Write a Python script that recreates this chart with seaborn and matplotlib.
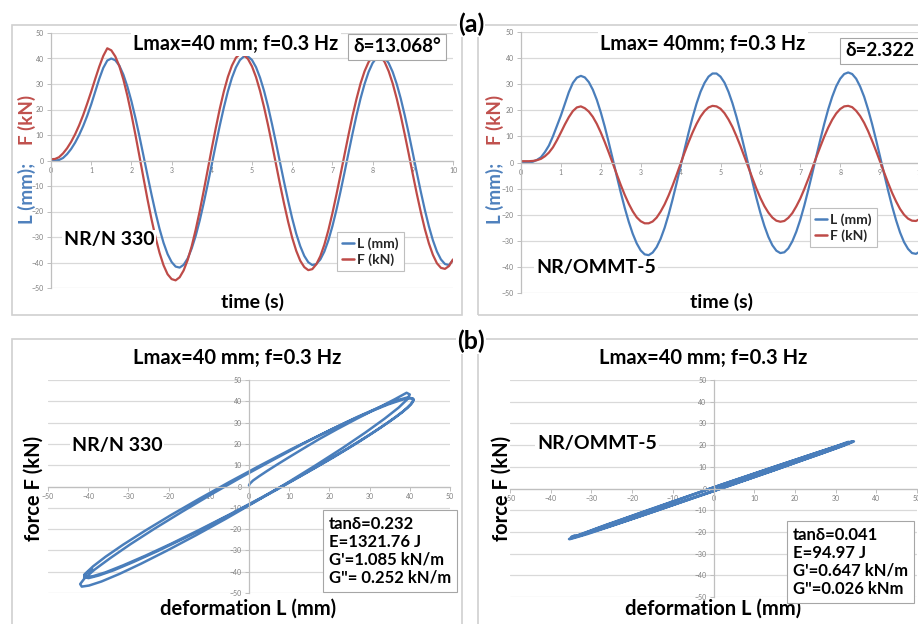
import matplotlib
matplotlib.use("Agg")
import matplotlib.pyplot as plt
from matplotlib.patches import Rectangle
import pandas as pd
import seaborn as sns

time_s = [0.0, 0.1, 0.2, 0.3, 0.4, 0.5, 0.6, 0.7, 0.8, 0.9,
          1.0, 1.1, 1.2, 1.3, 1.4, 1.5, 1.6, 1.7, 1.8, 1.9,
          2.0, 2.1, 2.2, 2.3, 2.4, 2.5, 2.6, 2.7, 2.8, 2.9,
          3.0, 3.1, 3.2, 3.3, 3.4, 3.5, 3.6, 3.7, 3.8, 3.9,
          4.0, 4.1, 4.2, 4.3, 4.4, 4.5, 4.6, 4.7, 4.8, 4.9,
          5.0, 5.1, 5.2, 5.3, 5.4, 5.5, 5.6, 5.7, 5.8, 5.9,
          6.0, 6.1, 6.2, 6.3, 6.4, 6.5, 6.6, 6.7, 6.8, 6.9,
          7.0, 7.1, 7.2, 7.3, 7.4, 7.5, 7.6, 7.7, 7.8, 7.9,
          8.0, 8.1, 8.2, 8.3, 8.4, 8.5, 8.6, 8.7, 8.8, 8.9,
          9.0, 9.1, 9.2, 9.3, 9.4, 9.5, 9.6, 9.7, 9.8, 9.9, 10.0]

# NR/N 330
L_n330 = [0.0, 0.0, 0.2, 1.0, 2.5, 4.5, 7.0, 10.0, 13.5, 17.5,
          22.0, 27.0, 32.0, 36.3, 39.2, 40.0, 39.3, 37.2, 33.7, 29.0,
          23.3, 16.7, 9.5, 1.9, -5.8, -13.3, -20.4, -26.8, -32.3, -36.7,
          -39.8, -41.6, -42.0, -40.9, -38.4, -34.5, -29.5, -23.5, -16.6, -9.2,
          -1.5, 6.3, 13.8, 20.8, 27.1, 32.4, 36.5, 39.4, 40.8, 40.8,
          39.4, 36.6, 32.5, 27.3, 21.1, 14.1, 6.7, -1.0, -8.6, -15.9,
          -22.7, -28.7, -33.6, -37.4, -39.9, -41.0, -40.6, -38.8, -35.7, -31.3,
          -25.8, -19.4, -12.3, -4.8, 2.9, 10.5, 17.7, 24.3, 30.0, 34.7,
          38.2, 40.3, 41.0, 40.3, 38.2, 34.7, 30.0, 24.3, 17.7, 10.5,
          2.9, -4.8, -12.3, -19.4, -25.8, -31.3, -35.7, -38.8, -40.6, -41.0, -39.0]
F_n330 = [0.5, 0.6, 1.3, 2.8, 4.8, 7.3, 10.3, 13.8, 17.8, 22.3,
          27.0, 32.0, 36.8, 41.0, 44.0, 43.2, 40.8, 37.0, 31.8, 25.4,
          18.1, 10.1, 1.7, -6.8, -15.2, -23.0, -30.1, -36.2, -41.1, -44.6,
          -46.5, -47.0, -45.8, -43.1, -39.0, -33.6, -27.1, -19.8, -11.8, -3.5,
          4.8, 12.8, 20.4, 27.1, 32.8, 37.2, 40.3, 41.8, 41.3, 39.8,
          36.9, 32.7, 27.3, 20.9, 13.8, 6.2, -1.7, -9.6, -17.1, -24.1,
          -30.3, -35.4, -39.3, -41.8, -43.0, -42.6, -40.7, -37.5, -33.0, -27.3,
          -20.7, -13.4, -5.7, 2.2, 10.0, 17.5, 24.2, 30.2, 35.0, 38.6,
          40.8, 41.5, 40.8, 38.6, 35.0, 30.2, 24.3, 17.6, 10.2, 2.5,
          -5.4, -13.1, -20.3, -26.9, -32.5, -37.0, -40.3, -42.1, -42.5, -41.4, -38.8]

# NR/OMMT-5
L_ommt = [0.0, 0.0, 0.0, 0.3, 1.0, 2.0, 4.0, 6.5, 10.0, 14.0,
          18.0, 22.5, 27.0, 30.5, 32.5, 33.2, 32.6, 30.8, 27.9, 24.0,
          19.2, 13.7, 7.6, 1.3, -5.2, -11.5, -17.4, -22.7, -27.3, -31.0,
          -33.7, -35.2, -35.5, -34.5, -32.4, -29.2, -25.0, -19.9, -14.1, -7.9,
          -1.4, 5.1, 11.4, 17.3, 22.6, 27.1, 30.5, 32.9, 34.1, 34.1,
          32.9, 30.6, 27.1, 22.7, 17.5, 11.7, 5.4, -1.0, -7.4, -13.6,
          -19.3, -24.3, -28.5, -31.7, -33.8, -34.7, -34.4, -32.9, -30.2, -26.5,
          -21.9, -16.5, -10.5, -4.2, 2.3, 8.7, 14.8, 20.4, 25.2, 29.2,
          32.1, 33.9, 34.5, 33.9, 32.1, 29.1, 25.2, 20.3, 14.7, 8.6,
          2.2, -4.3, -10.7, -16.7, -22.1, -26.8, -30.5, -33.1, -34.7, -35.0, -34.1]
F_ommt = [0.5, 0.5, 0.5, 0.6, 0.9, 1.4, 2.4, 3.8, 5.8, 8.5,
          11.5, 14.6, 17.4, 19.7, 21.1, 21.5, 20.8, 19.5, 17.5, 14.8,
          11.5, 7.8, 3.8, -0.3, -4.5, -8.6, -12.4, -15.8, -18.7, -21.0,
          -22.5, -23.3, -23.3, -22.6, -21.1, -18.8, -16.0, -12.6, -8.8, -4.7,
          -0.4, 3.8, 7.8, 11.5, 14.8, 17.6, 19.7, 21.1, 21.7, 21.5,
          20.6, 18.9, 16.5, 13.6, 10.1, 6.3, 2.2, -1.9, -6.0, -10.0,
          -13.6, -16.7, -19.2, -21.1, -22.3, -22.7, -22.4, -21.2, -19.4, -16.8,
          -13.8, -10.2, -6.3, -2.2, 2.0, 6.0, 9.9, 13.4, 16.4, 18.8,
          20.5, 21.5, 21.7, 21.2, 19.8, 17.8, 15.2, 12.0, 8.3, 4.4,
          0.3, -3.8, -7.8, -11.6, -14.9, -17.8, -20.0, -21.5, -22.3, -22.4, -21.6]

delta_text = ["δ=13.068°", "δ=2.322"]
loop_stats = ["tanδ=0.232\nE=1321.76 J\nG'=1.085 kN/m\nG\"= 0.252 kN/m",
              "tanδ=0.041\nE=94.97 J\nG'=0.647 kN/m\nG\"=0.026 kNm"]

BLUE = "#4A7EBB"
RED = "#BE4B48"
GRID = "#D9D9D9"
AXIS = "#BFBFBF"
TICK = "#7F7F7F"

sns.set_theme(style="white")
plt.rcParams["font.family"] = ["Lato", "DejaVu Sans"]

W, H = 918, 624
fig = plt.figure(figsize=(W / 100, H / 100), dpi=100)
fig.patch.set_facecolor("white")


def px_rect(l, t, r, b):
    return [l / W, 1 - b / H, (r - l) / W, (b - t) / H]


def ftext(x, y, s, **kw):
    return fig.text(x / W, 1 - y / H, s, **kw)


def setup(ax, xlim, xticks, cross_x):
    ax.set_xlim(*xlim)
    ax.set_ylim(-50, 50)
    ax.set_facecolor("none")
    ax.set_xticks(xticks)
    ax.set_yticks(range(-50, 51, 10))
    ax.set_axisbelow(True)
    ax.yaxis.grid(True, color=GRID, lw=0.9)
    ax.xaxis.grid(False)
    for s in ["top", "right"]:
        ax.spines[s].set_visible(False)
    ax.spines["bottom"].set_position(("data", 0))
    if cross_x:
        ax.spines["left"].set_position(("data", 0))
    for s in ["left", "bottom"]:
        ax.spines[s].set_color(AXIS)
        ax.spines[s].set_linewidth(0.9)
    ax.tick_params(axis="both", length=3, width=0.7, color=AXIS, labelsize=5,
                   labelcolor=TICK, pad=2, direction="out", bottom=True, left=True)
    ax.set_xlabel("")
    ax.set_ylabel("")


bold = dict(fontweight="bold", color="black")
white_box = dict(boxstyle="square,pad=0.1", fc="white", ec="none")
edge_box = dict(boxstyle="square,pad=0.25", fc="white", ec="#A6A6A6", lw=0.8)

# chart frames
for l, t, r, b in [(12, 25, 462, 315), (478, 25, 930, 315),
                   (12, 339, 462, 640), (478, 339, 930, 640)]:
    fig.add_artist(Rectangle((l / W, 1 - b / H), (r - l) / W, (b - t) / H,
                             transform=fig.transFigure, fill=False,
                             ec="#D0D0D0", lw=1.2))

# (a) time plots
panels_a = [
    dict(rect=(51, 33, 453, 288), L=L_n330, F=F_n330, name="NR/N 330",
         title="Lmax=40 mm; f=0.3 Hz", cx=236, dx=397, dy=47, dha="center",
         nx=109, ny=240, leg=(337, 232), xl=252, yl=27),
    dict(rect=(521, 32, 920, 293), L=L_ommt, F=F_ommt, name="NR/OMMT-5",
         title="Lmax= 40mm; f=0.3 Hz", cx=703, dx=845, dy=51, dha="left",
         nx=596, ny=268, leg=(810, 208), xl=721, yl=495),
]
for i, p in enumerate(panels_a):
    ax = fig.add_axes(px_rect(*p["rect"]))
    df = pd.DataFrame({
        "time": time_s + time_s,
        "value": p["L"] + p["F"],
        "series": ["L (mm)"] * len(time_s) + ["F (kN)"] * len(time_s),
    })
    sns.lineplot(data=df, x="time", y="value", hue="series",
                 palette={"L (mm)": BLUE, "F (kN)": RED}, estimator=None,
                 lw=1.6, ax=ax)
    setup(ax, (0, 10), range(0, 11), False)
    h, lab = ax.get_legend_handles_labels()
    leg = ax.legend(h, lab, loc="upper left",
                    bbox_to_anchor=(p["leg"][0] / W, 1 - p["leg"][1] / H),
                    bbox_transform=fig.transFigure, fancybox=False,
                    edgecolor=AXIS, framealpha=1, handlelength=0.9,
                    handletextpad=0.2, borderpad=0.35, labelspacing=0.25,
                    borderaxespad=0, prop={"weight": "bold", "size": 10})
    leg.get_frame().set_linewidth(0.8)
    for line in leg.get_lines():
        line.set_linewidth(1.8)

    ftext(p["cx"], 44, p["title"], fontsize=14.2, ha="center", va="center",
          bbox=white_box, **bold)
    ftext(p["dx"], p["dy"], delta_text[i], fontsize=13.5, ha=p["dha"],
          va="center", bbox=edge_box, **bold)
    ftext(p["nx"], p["ny"], p["name"], fontsize=14, ha="center", va="center",
          bbox=white_box, **bold)
    ftext(p["xl"], 302, "time (s)", fontsize=14, ha="center", va="center",
          **bold)
    ftext(p["yl"], 193, "L (mm);", fontsize=13.5, ha="center", va="center",
          rotation=90, fontweight="bold", color="#4F81BD")
    ftext(p["yl"], 120, "F (kN)", fontsize=13.5, ha="center", va="center",
          rotation=90, fontweight="bold", color="#C0504D")

# (b) hysteresis loops F vs L
panels_b = [
    dict(rect=(48, 380, 450, 593), L=L_n330, F=F_n330, name="NR/N 330",
         cx=237, nx=117, ny=446, bx=329, by=551, xl=248, yl=34),
    dict(rect=(510, 380, 917, 597), L=L_ommt, F=F_ommt, name="NR/OMMT-5",
         cx=703, nx=597, ny=444, bx=793, by=562, xl=713, yl=502),
]
for i, p in enumerate(panels_b):
    ax = fig.add_axes(px_rect(*p["rect"]))
    sns.lineplot(x=p["L"], y=p["F"], sort=False, estimator=None, color=BLUE,
                 lw=1.8, ax=ax)
    setup(ax, (-50, 50), range(-50, 51, 10), True)

    ftext(p["cx"], 358, "Lmax=40 mm; f=0.3 Hz", fontsize=14.5, ha="center",
          va="center", bbox=white_box, **bold)
    ftext(p["nx"], p["ny"], p["name"], fontsize=14, ha="center", va="center",
          bbox=white_box, **bold)
    ftext(p["xl"], 609, "deformation L (mm)", fontsize=14.5, ha="center",
          va="center", **bold)
    ftext(p["yl"], 488, "force F (kN)", fontsize=14.5, ha="center",
          va="center", rotation=90, **bold)
    ftext(p["bx"], p["by"], loop_stats[i], fontsize=12, ha="left",
          va="center", linespacing=1.15,
          bbox=dict(boxstyle="square,pad=0.35", fc="white", ec="#A6A6A6",
                    lw=0.8), **bold)

ftext(471, 24, "(a)", fontsize=18, ha="center", va="center",
      bbox=dict(boxstyle="square,pad=0.05", fc="white", ec="none"), **bold)
ftext(471, 341, "(b)", fontsize=18, ha="center", va="center",
      bbox=dict(boxstyle="square,pad=0.05", fc="white", ec="none"), **bold)

fig.savefig("out.png", dpi=100, facecolor="white")
